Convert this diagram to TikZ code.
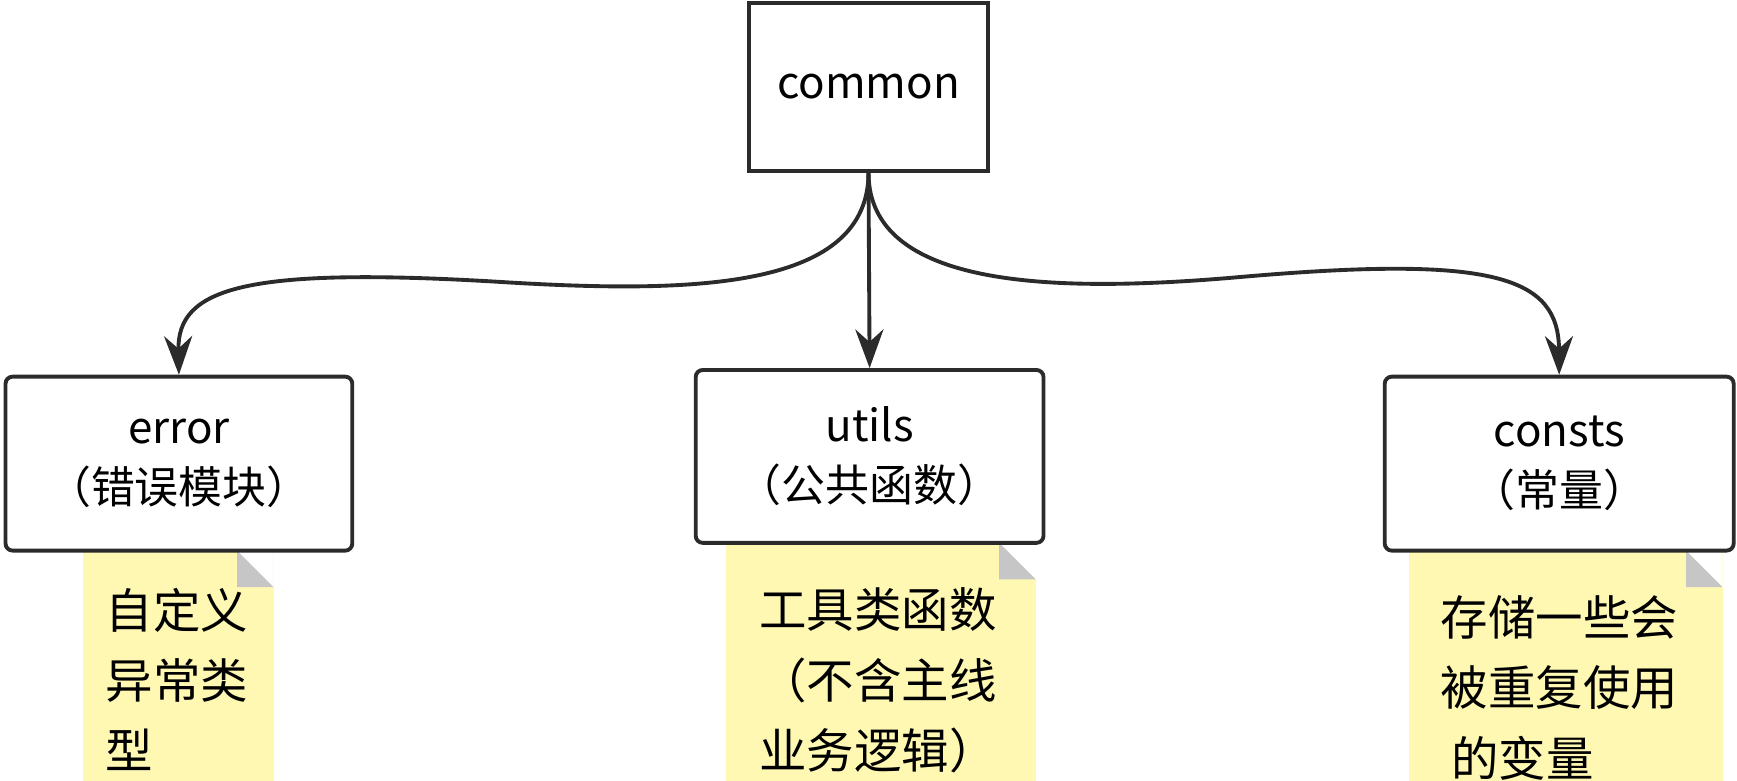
\documentclass[tikz,border=0pt]{standalone}
\usepackage{fontspec}
\setmainfont{Noto Sans CJK SC}
\usetikzlibrary{arrows.meta}
\definecolor{notey}{HTML}{FFF8B3}
\definecolor{linec}{HTML}{2B2B2B}
\tikzset{
  module/.style={draw=linec,line width=1.1pt,rounded corners=2pt,inner sep=0pt,align=center,font=\fontsize{12.5}{17}\selectfont},
  note/.style={fill=notey,inner sep=0pt,align=left,font=\fontsize{13.5}{20}\selectfont},
  link/.style={draw=linec,line width=1.1pt,-{Stealth[length=11pt,width=8pt]}}
}
\begin{document}
\begin{tikzpicture}[x=1.108cm,y=1.108cm]
  \useasboundingbox (0,0) rectangle (15.68,-7.05);

  % notes
  \fill[notey] (0.75,-4.97) rectangle (2.47,-7.05);
  \fill[notey] (6.55,-4.90) rectangle (9.35,-7.05);
  \fill[notey] (12.72,-4.97) rectangle (15.55,-7.05);
  \foreach \xa/\yb in {2.47/-4.97, 9.35/-4.90, 15.55/-4.97}{
    \fill[white] (\xa-0.33,\yb) -- (\xa,\yb) -- (\xa,\yb-0.33) -- cycle;
    \fill[gray!45] (\xa-0.33,\yb) -- (\xa,\yb-0.33) -- (\xa-0.33,\yb-0.33) -- cycle;
  }
  \node[note,anchor=north west] (errnote) at (0.95,-5.3) {自定义\\异常类\\型};
  \node[note,anchor=north west] (utilnote) at (6.85,-5.3) {工具类函数\\（不含主线\\业务逻辑）};
  \node[note,anchor=north west] (constnote) at (13.0,-5.37) {存储一些会\\被重复使用\\\ 的变量};

  % modules
  \node[module,rounded corners=0pt,minimum width=2.16cm*1.108,minimum height=1.51cm*1.108] (common) at (7.84,-0.785) {common};
  \node[module,minimum width=3.13cm*1.108,minimum height=1.57cm*1.108] (error) at (1.615,-4.185) {error\\（错误模块）};
  \node[module,minimum width=3.14cm*1.108,minimum height=1.56cm*1.108] (utils) at (7.85,-4.12) {utils\\（公共函数）};
  \node[module,minimum width=3.15cm*1.108,minimum height=1.57cm*1.108] (consts) at (14.075,-4.185) {consts\\（常量）};

  % links
  \draw[link] (common.south) .. controls (7.84,-2.6) and (6.3,-2.65) .. (4.6,-2.55)
    .. controls (2.2,-2.4) and (1.6,-2.6) .. (error.north);
  \draw[link] (common.south) -- (utils.north);
  \draw[link] (common.south) .. controls (7.84,-2.6) and (9.5,-2.65) .. (11.2,-2.5)
    .. controls (13.5,-2.3) and (14.07,-2.5) .. (consts.north);
\end{tikzpicture}
\end{document}
